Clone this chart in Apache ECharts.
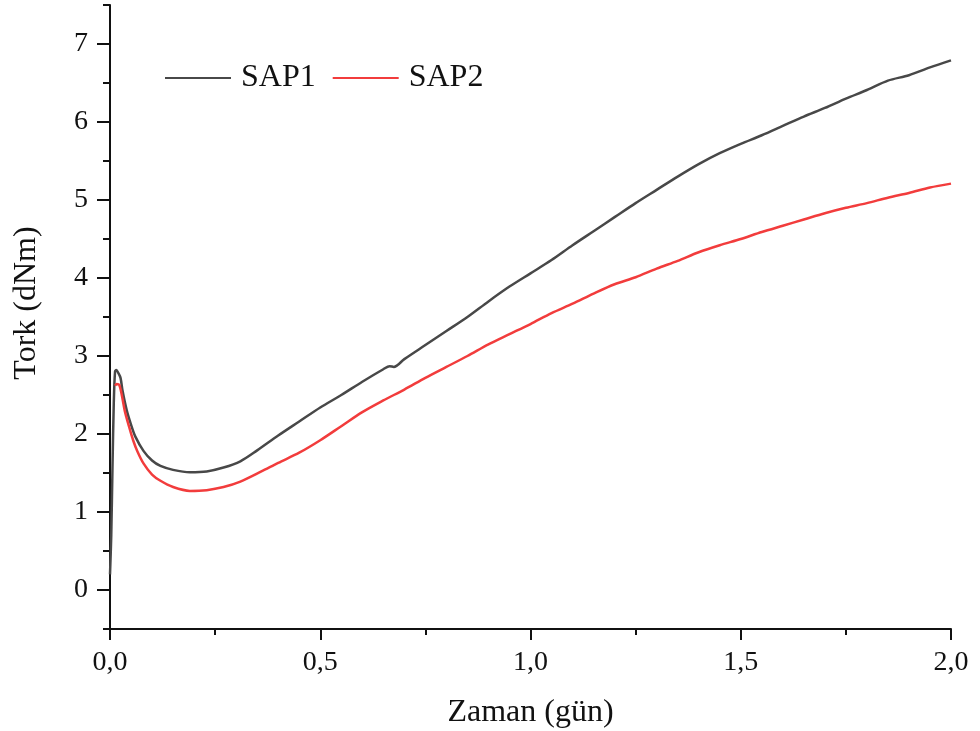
<!DOCTYPE html>
<html>
<head>
<meta charset="utf-8">
<script src="https://cdn.jsdelivr.net/npm/echarts@6/dist/echarts.min.js"></script>
<style>
  html, body { margin: 0; padding: 0; background: #fff; }
  #chart { width: 980px; height: 731px; }
</style>
</head>
<body>
<div id="chart"></div>
<script>
// SAP1 (gri)
var sap1X = [0, 0.003, 0.006, 0.009, 0.012, 0.015, 0.02, 0.025, 0.03, 0.04, 0.05, 0.06, 0.08, 0.1, 0.12, 0.15, 0.19, 0.23, 0.27, 0.31, 0.35, 0.4, 0.45, 0.5, 0.55, 0.6, 0.65, 0.665, 0.675, 0.7, 0.75, 0.8, 0.85, 0.9, 0.95, 1.0, 1.05, 1.1, 1.15, 1.2, 1.25, 1.3, 1.35, 1.4, 1.45, 1.5, 1.55, 1.6, 1.65, 1.7, 1.75, 1.8, 1.85, 1.9, 1.95, 2.0];
var sap1Y = [0.2, 0.7, 1.6, 2.4, 2.8, 2.82, 2.78, 2.72, 2.55, 2.3, 2.12, 1.97, 1.78, 1.66, 1.59, 1.54, 1.51, 1.52, 1.57, 1.65, 1.79, 1.98, 2.16, 2.34, 2.5, 2.67, 2.83, 2.87, 2.86, 2.96, 3.14, 3.32, 3.5, 3.7, 3.89, 4.06, 4.23, 4.42, 4.6, 4.78, 4.96, 5.13, 5.3, 5.46, 5.6, 5.72, 5.83, 5.95, 6.07, 6.18, 6.3, 6.41, 6.53, 6.6, 6.7, 6.79];

// SAP2 (kırmızı)
var sap2X = [0.012, 0.016, 0.022, 0.028, 0.035, 0.045, 0.055, 0.065, 0.08, 0.1, 0.12, 0.15, 0.19, 0.23, 0.27, 0.31, 0.36, 0.4, 0.45, 0.5, 0.55, 0.6, 0.65, 0.7, 0.75, 0.8, 0.85, 0.9, 0.95, 1.0, 1.05, 1.1, 1.15, 1.2, 1.25, 1.3, 1.35, 1.4, 1.45, 1.5, 1.55, 1.6, 1.65, 1.7, 1.75, 1.8, 1.85, 1.9, 1.95, 2.0];
var sap2Y = [2.62, 2.64, 2.63, 2.5, 2.3, 2.1, 1.92, 1.78, 1.62, 1.48, 1.4, 1.32, 1.27, 1.28, 1.32, 1.39, 1.52, 1.63, 1.76, 1.92, 2.1, 2.28, 2.43, 2.57, 2.72, 2.86, 3.0, 3.15, 3.28, 3.41, 3.55, 3.67, 3.8, 3.92, 4.01, 4.12, 4.22, 4.33, 4.42, 4.5, 4.59, 4.67, 4.75, 4.83, 4.9, 4.96, 5.03, 5.09, 5.16, 5.21];

var yMajorTicks = [0, 1, 2, 3, 4, 5, 6, 7];
var yMinorTicks = [-0.5, 0.5, 1.5, 2.5, 3.5, 4.5, 5.5, 6.5, 7.5];

function pairs(xs, ys) {
    return xs.map(function (x, i) { return [x, ys[i]]; });
}

var font = 'Liberation Serif';

var option = {
    animation: false,
    backgroundColor: '#fff',
    textStyle: { fontFamily: font },
    grid: { left: 110, right: 29, top: 5, bottom: 102, outerBoundsMode: 'none', containLabel: false },
    legend: {
        left: 160,
        top: 57,
        itemWidth: 66,
        itemHeight: 2,
        itemGap: 17,
        icon: 'rect',
        textStyle: { fontFamily: font, fontSize: 32, color: '#111', padding: [0, 0, 0, 5] },
        data: ['SAP1', 'SAP2']
    },
    xAxis: {
        type: 'value',
        min: 0,
        max: 2,
        interval: 0.5,
        name: 'Zaman (gün)',
        nameLocation: 'middle',
        nameGap: 68,
        nameTextStyle: { fontFamily: font, fontSize: 32, color: '#111' },
        axisLine: { show: true, onZero: false, lineStyle: { color: '#111', width: 2 } },
        axisTick: { show: true, inside: false, length: 11, lineStyle: { color: '#111', width: 2 } },
        minorTick: { show: true, splitNumber: 2, length: 6, lineStyle: { color: '#111', width: 2 } },
        axisLabel: {
            margin: 20,
            fontFamily: font,
            fontSize: 28,
            color: '#111',
            formatter: function (v) { return v.toFixed(1).replace('.', ','); }
        },
        splitLine: { show: false }
    },
    yAxis: [{
        type: 'value',
        min: -0.5,
        max: 7.5,
        name: 'Tork (dNm)',
        nameLocation: 'middle',
        nameGap: 67,
        nameTextStyle: { fontFamily: font, fontSize: 32, color: '#111', padding: [0, 0, 0, 28] },
        axisLine: { show: true, onZero: false, lineStyle: { color: '#111', width: 2 } },
        axisTick: { show: true, length: 13, customValues: yMajorTicks, lineStyle: { color: '#111', width: 2 } },
        axisLabel: { customValues: yMajorTicks, margin: 22, fontFamily: font, fontSize: 28, color: '#111' },
        splitLine: { show: false }
    }, {
        type: 'value',
        min: -0.5,
        max: 7.5,
        position: 'left',
        axisLine: { show: false, onZero: false },
        axisTick: { show: true, length: 7, customValues: yMinorTicks, lineStyle: { color: '#111', width: 2 } },
        axisLabel: { show: false },
        splitLine: { show: false }
    }],
    series: [{
        name: 'SAP1',
        type: 'line',
        data: pairs(sap1X, sap1Y),
        showSymbol: false,
        symbol: 'none',
        smooth: 0.3,
        itemStyle: { color: '#484848' },
        lineStyle: { color: '#484848', width: 2.5 }
    }, {
        name: 'SAP2',
        type: 'line',
        data: pairs(sap2X, sap2Y),
        showSymbol: false,
        symbol: 'none',
        smooth: 0.3,
        itemStyle: { color: '#f23c3c' },
        lineStyle: { color: '#f23c3c', width: 2.5 }
    }]
};

var chart = echarts.init(document.getElementById('chart'));
chart.setOption(option);
</script>
</body>
</html>
